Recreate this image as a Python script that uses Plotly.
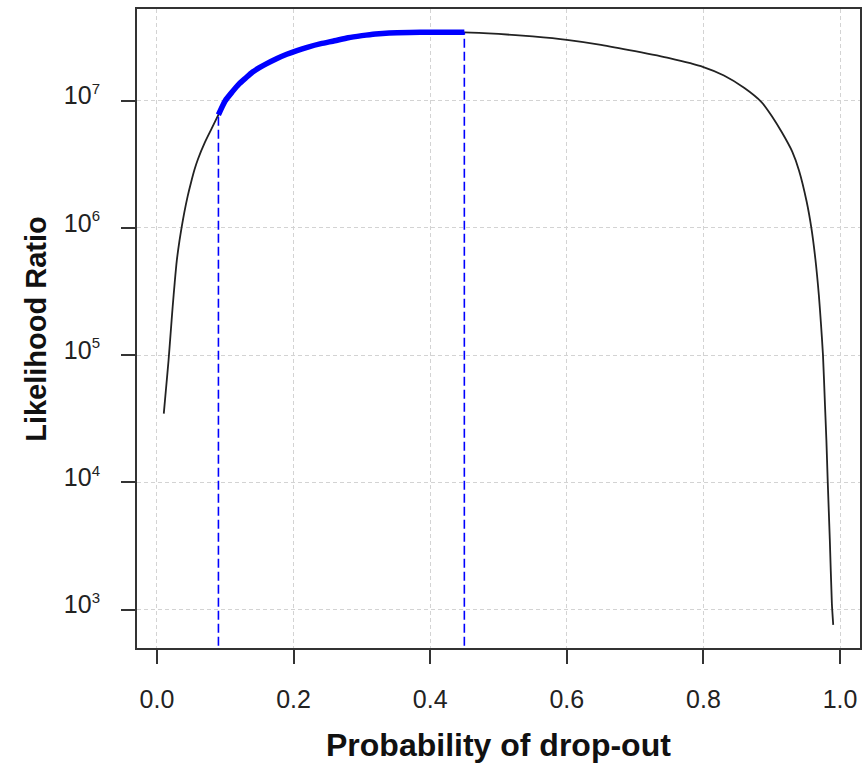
import plotly.graph_objects as go

# Probability of drop-out and likelihood ratio
p_left = [0.010, 0.013, 0.017, 0.020, 0.023, 0.026, 0.029, 0.033, 0.036, 0.040,
          0.045, 0.050, 0.055, 0.060, 0.070, 0.080, 0.090]
lr_left = [3.47e4, 5.25e4, 9.12e4, 1.48e5, 2.40e5, 3.72e5, 5.50e5, 7.94e5, 1.0e6, 1.32e6,
           1.78e6, 2.29e6, 2.88e6, 3.47e6, 4.68e6, 6.03e6, 7.76e6]

p_ci = [0.090, 0.100, 0.110, 0.120, 0.130, 0.140, 0.150, 0.160, 0.175, 0.190,
        0.205, 0.220, 0.240, 0.260, 0.280, 0.300, 0.320, 0.340, 0.370, 0.400, 0.450]
lr_ci = [7.76e6, 1.00e7, 1.17e7, 1.35e7, 1.51e7, 1.68e7, 1.82e7, 1.95e7, 2.14e7, 2.32e7,
         2.48e7, 2.63e7, 2.81e7, 2.96e7, 3.13e7, 3.25e7, 3.35e7, 3.41e7, 3.44e7, 3.45e7, 3.45e7]

p_right = [0.450, 0.500, 0.550, 0.600, 0.650, 0.700, 0.750, 0.800, 0.830, 0.860,
           0.885, 0.900, 0.915, 0.930, 0.940, 0.951, 0.958, 0.964, 0.969, 0.972,
           0.975, 0.978, 0.980, 0.982, 0.985, 0.988, 0.990]
lr_right = [3.45e7, 3.35e7, 3.20e7, 3.01e7, 2.75e7, 2.45e7, 2.16e7, 1.84e7, 1.58e7, 1.26e7,
            9.77e6, 7.59e6, 5.62e6, 3.98e6, 2.82e6, 1.62e6, 1.0e6, 5.62e5, 2.95e5, 1.78e5,
            1.0e5, 3.98e4, 2.14e4, 1.0e4, 3.55e3, 1.12e3, 7.59e2]

# Confidence interval bounds (vertical dashed lines)
ci_bounds = [0.09, 0.45]
ci_bound_lr = [7.76e6, 3.45e7]
floor_lr = 1e2

x_ticks = [0.0, 0.2, 0.4, 0.6, 0.8, 1.0]
x_ticktext = ["0.0", "0.2", "0.4", "0.6", "0.8", "1.0"]
y_ticks = [1e3, 1e4, 1e5, 1e6, 1e7]
y_exps = [3, 4, 5, 6, 7]

fig = go.Figure()

# full curve in black
fig.add_trace(go.Scatter(
    x=p_left + p_ci[1:] + p_right[1:],
    y=lr_left + lr_ci[1:] + lr_right[1:],
    mode="lines", line=dict(color="#222222", width=1.8, shape="spline", smoothing=0.6),
    showlegend=False, hoverinfo="skip"))

# dashed bounds
for xb, yb in zip(ci_bounds, ci_bound_lr):
    fig.add_trace(go.Scatter(
        x=[xb, xb], y=[floor_lr, yb], mode="lines",
        line=dict(color="#0000FF", width=1.6, dash="9px,4px"),
        showlegend=False, hoverinfo="skip"))

# highlighted interval in thick blue
fig.add_trace(go.Scatter(
    x=p_ci, y=lr_ci, mode="lines",
    line=dict(color="#0000FF", width=5.5, shape="spline", smoothing=0.6),
    showlegend=False, hoverinfo="skip"))

font_family = "Liberation Sans, Arial, sans-serif"

fig.update_layout(
    width=865, height=764,
    margin=dict(l=137, r=3, t=9, b=116),
    paper_bgcolor="white", plot_bgcolor="white",
    font=dict(family=font_family, color="#222222"),
    xaxis=dict(
        range=[-0.0292, 1.0292],
        tickvals=x_ticks, ticktext=x_ticktext,
        tickfont=dict(size=25, color="#222222"),
        ticks="outside", ticklen=14, tickwidth=2, tickcolor="#333333",
        showline=True, linecolor="#333333", linewidth=2, mirror=True,
        showgrid=True, gridcolor="#d3d3d3", gridwidth=1, griddash="4px,3px",
        zeroline=False,
        ticklabelstandoff=14,
    ),
    yaxis=dict(
        type="log", range=[2.698, 7.721],
        tickvals=y_ticks,
        ticktext=["10<sup><span style='font-size:15px'>%d</span></sup>" % e for e in y_exps],
        tickfont=dict(size=25, color="#222222"),
        ticks="outside", ticklen=14, tickwidth=2, tickcolor="#333333",
        showline=True, linecolor="#333333", linewidth=2, mirror=True,
        showgrid=True, gridcolor="#d3d3d3", gridwidth=1, griddash="4px,3px",
        zeroline=False,
        ticklabelshift=-5,
        ticklabelstandoff=16,
    ),
    annotations=[
        dict(text="<b>Probability of drop-out</b>", xref="paper", yref="paper",
             x=0.5, y=-(745 - 647.7) / 638.7, xanchor="center", yanchor="middle",
             showarrow=False, font=dict(size=32, color="#111111", family=font_family)),
        dict(text="<b>Likelihood Ratio</b>", xref="paper", yref="paper",
             x=(35 - 137) / 725, y=0.5, xanchor="center", yanchor="middle",
             textangle=-90, showarrow=False,
             font=dict(size=29, color="#111111", family=font_family)),
    ],
)

fig.write_html("out.html")
